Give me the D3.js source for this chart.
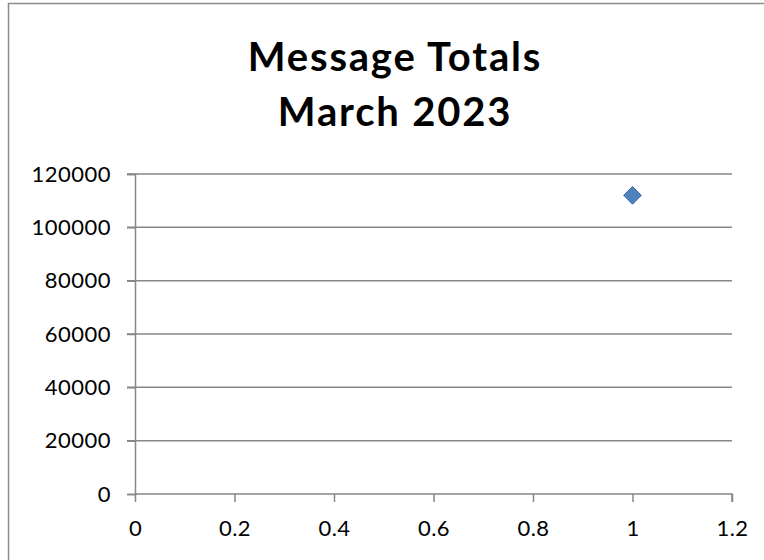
<!DOCTYPE html>
<html lang="en">
  <head>
  <title>Message Totals</title>
    <style>
      body { margin: 0; background: #fff; }
      text { font-family: Lato, 'Open Sans', sans-serif; fill: #000; }
      .title { font-weight: bold; font-size: 40px; letter-spacing: 1.8px; }
      .tick text { font-size: 22px; letter-spacing: 0.5px; }
    </style>
  </head>
  <body>
<div id="chart"></div>
    <script src="https://d3js.org/d3.v7.min.js"></script>
    <script>
    // data
    var titleLines = ["Message Totals", "March 2023"];
    var xValues = [1];
    var yValues = [112000];
    var xTicks = [0, 0.2, 0.4, 0.6, 0.8, 1, 1.2];
    var yTicks = [0, 20000, 40000, 60000, 80000, 100000, 120000];

    var width = 764, height = 560;
    var margin = {left: 135, right: 32, top: 174, bottom: 66};

    var svg = d3.select("#chart")
        .append("svg")
        .attr("width", width)
        .attr("height", height);

    // outer chart border
    svg.append("rect")
        .attr("x", 8.5).attr("y", 3.5)
        .attr("width", 800).attr("height", 600)
        .attr("fill", "none")
        .attr("stroke", "#8c8c8c")
        .attr("stroke-width", 1.5);

    svg.selectAll("text.title")
        .data(titleLines)
        .enter().append("text")
          .attr("class", "title")
          .attr("x", 395)
          .attr("y", function(d, i) { return 71 + i * 55; })
          .attr("text-anchor", "middle")
          .text(function(d) { return d; });

    var x = d3.scaleLinear().domain([0, 1.2]).range([margin.left, width - margin.right]);
    var y = d3.scaleLinear().domain([0, 120000]).range([height - margin.bottom, margin.top]);

    // gridlines
    svg.append("g")
      .selectAll("line")
      .data(yTicks.slice(1))
      .enter().append("line")
        .attr("x1", x(0) - 8).attr("x2", x(1.2))
        .attr("y1", function(d) { return y(d); })
        .attr("y2", function(d) { return y(d); })
        .attr("stroke", "#868686")
        .attr("stroke-width", 1.5);

    var xAxis = svg.append("g")
        .attr("transform", "translate(0," + y(0) + ")")
        .call(d3.axisBottom(x).tickValues(xTicks).tickSize(8).tickPadding(18)
          .tickFormat(function(d) { return d3.format("~g")(d); }));

    var yAxis = svg.append("g")
        .attr("transform", "translate(" + x(0) + ",0)")
        .call(d3.axisLeft(y).tickValues(yTicks).tickSize(8).tickPadding(16)
          .tickFormat(d3.format("d")));

    [xAxis, yAxis].forEach(function(a) {
      a.select(".domain").attr("stroke", "#868686").attr("stroke-width", 1.5);
      a.selectAll(".tick line").attr("stroke", "#868686").attr("stroke-width", 1.5);
      a.selectAll(".tick text").attr("fill", "#000").style("font-family", "Lato, sans-serif");
    });
    xAxis.select(".domain").attr("d", "M" + x(0) + ",0H" + x(1.2) + "V8");

    // points
    svg.append("g")
      .selectAll("path")
      .data(xValues)
      .enter().append("path")
        .attr("d", d3.symbol().type(d3.symbolDiamond2).size(200))
        .attr("transform", function(d, i) { return "translate(" + x(d) + "," + y(yValues[i]) + ")"; })
        .attr("fill", "#4f81bd")
        .attr("stroke", "#3c6aa5")
        .attr("stroke-width", 1);
    </script>
  </body>
</html>
